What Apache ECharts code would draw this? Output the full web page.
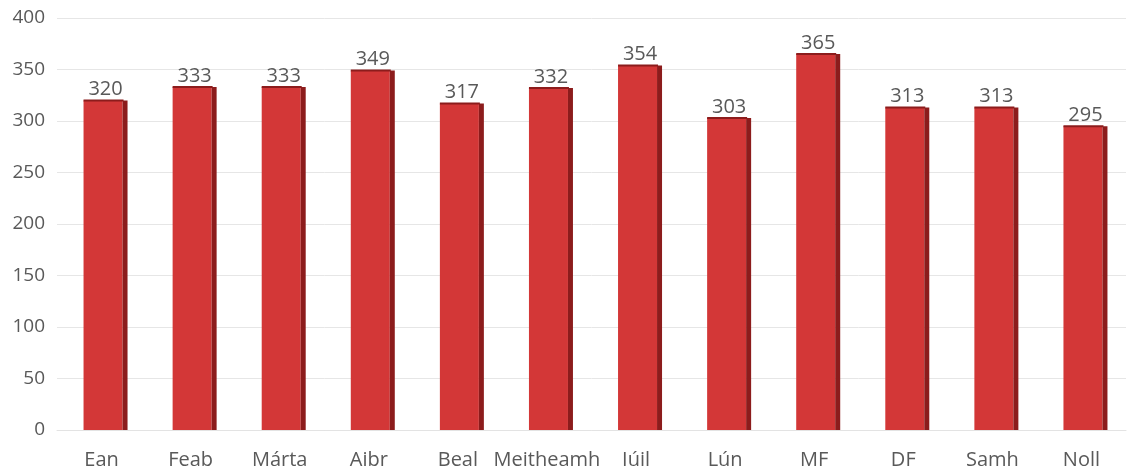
<!DOCTYPE html>
<html>
<head>
<meta charset="utf-8">
<script src="https://cdn.jsdelivr.net/npm/echarts@6/dist/echarts.min.js"></script>
<style>html,body{margin:0;padding:0;background:#fff}#c{width:1127px;height:475px}</style>
</head>
<body>
<div id="c"></div>
<script>
const categories = ['Ean','Feab','Márta','Aibr','Beal','Meitheamh','Iúil','Lún','MF','DF','Samh','Noll'];
const values = [320,333,333,349,317,332,354,303,365,313,313,295];

const chart = echarts.init(document.getElementById('c'));
const font = '"Open Sans", "Noto Sans", sans-serif';
chart.setOption({
  animation: false,
  grid: {left: 57, right: 1, top: 18, bottom: 45},
  xAxis: {
    type: 'category', data: categories,
    axisLine: {show: true, lineStyle: {color: '#e3e3e3'}},
    axisTick: {show: false},
    axisLabel: {color: '#595959', fontSize: 20, fontFamily: font, margin: 20, interval: 0}
  },
  yAxis: {
    type: 'value', min: 0, max: 400, interval: 50,
    axisLine: {show: false}, axisTick: {show: false},
    splitLine: {lineStyle: {color: '#e6e6e6'}},
    axisLabel: {color: '#595959', fontSize: 19, fontFamily: font, margin: 12}
  },
  series: [{
    type: 'custom',
    data: values.map((v, i) => [i, v]),
    encode: {x: 0, y: 1},
    renderItem: function (params, api) {
      const top = api.coord([api.value(0), api.value(1)]);
      const base = api.coord([api.value(0), 0]);
      const c = top[0];
      const h = base[1] - top[1];
      const fx = c - 18, fw = 39, sw = 5;
      return {
        type: 'group',
        children: [
          {type: 'rect', shape: {x: fx, y: top[1], width: fw, height: h}, style: {fill: '#d33737'}},
          {type: 'rect', shape: {x: fx + fw, y: top[1], width: sw, height: h}, style: {fill: '#8c1c1c'}},
          {type: 'rect', shape: {x: fx, y: top[1] - 1, width: fw + 1, height: 2}, style: {fill: '#8c1c1c'}},
          {type: 'text', style: {
            text: String(api.value(1)), x: fx + (fw + sw) / 2, y: top[1] - 1,
            align: 'center', verticalAlign: 'bottom',
            fill: '#595959', fontSize: 20, fontFamily: font
          }}
        ]
      };
    }
  }]
});
</script>
</body>
</html>
